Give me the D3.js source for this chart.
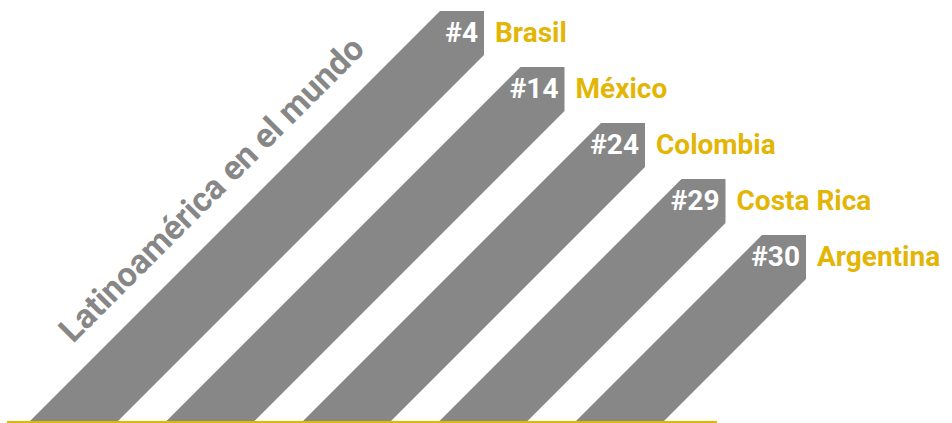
<!DOCTYPE html>
<html>
<head>
<meta charset="utf-8">
<script src="https://cdn.jsdelivr.net/npm/d3@7"></script>
<style>
  body { margin: 0; background: #fff; }
  text { font-family: Roboto, "Open Sans", sans-serif; font-weight: 700; }
</style>
</head>
<body>
<div id="chart"></div>
<script>
// Data
const countries = ["Brasil", "México", "Colombia", "Costa Rica", "Argentina"];
const ranks = [4, 14, 24, 29, 30];
const title = "Latinoamérica en el mundo";

const width = 952;
const height = 423;
const baseY = 421;
const barW = 88;      // horizontal width of each band at the base
const cap = 44;       // size of the clipped top corner

const gray = "#878787";
const gold = "#e3b505";

const svg = d3.select("#chart")
    .append("svg")
    .attr("width", width)
    .attr("height", height);

// bottom-left corner of each band
const x = d3.scalePoint()
    .domain(countries)
    .range([30, 576]);

// top of each band (steps down one by one)
const y = d3.scalePoint()
    .domain(countries)
    .range([11, 235]);

const data = countries.map((c, i) => ({ country: c, rank: ranks[i] }));

function barPath(d) {
    const xb = x(d.country);
    const top = y(d.country);
    const xt = xb + (baseY - top);   // 45 degree left edge
    return `M${xb},${baseY} L${xt},${top} L${xt + cap},${top} L${xt + cap},${top + cap} L${xb + barW},${baseY} Z`;
}

const bars = svg.append("g").attr("class", "bars")
    .selectAll("g")
    .data(data)
    .enter().append("g");

bars.append("path")
    .attr("d", barPath)
    .attr("fill", gray);

// rank inside the top of the band
bars.append("text")
    .attr("x", d => x(d.country) + (baseY - y(d.country)) + cap - 6)
    .attr("y", d => y(d.country) + 31)
    .attr("text-anchor", "end")
    .attr("fill", "#fff")
    .attr("font-size", 28)
    .text(d => "#" + d.rank);

// country name
bars.append("text")
    .attr("x", d => x(d.country) + (baseY - y(d.country)) + cap + 11)
    .attr("y", d => y(d.country) + 31)
    .attr("fill", gold)
    .attr("font-size", 28)
    .text(d => d.country);

// baseline
svg.append("line")
    .attr("x1", 7)
    .attr("x2", 717)
    .attr("y1", baseY + 1)
    .attr("y2", baseY + 1)
    .attr("stroke", gold)
    .attr("stroke-width", 2);

// rotated title along the first band
svg.append("text")
    .attr("transform", "translate(73,344) rotate(-45)")
    .attr("fill", gray)
    .attr("font-size", 34)
    .text(title);
</script>
</body>
</html>
